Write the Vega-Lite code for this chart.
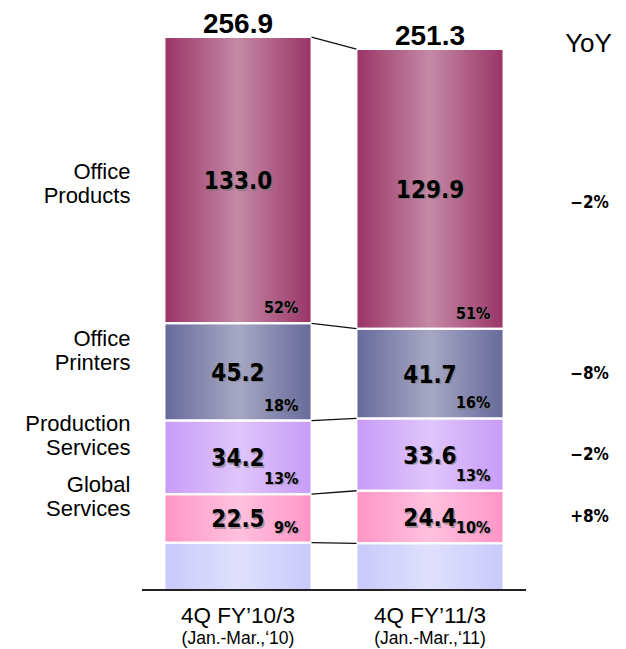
{
  "$schema": "https://vega.github.io/schema/vega-lite/v6.json",
  "autosize": {"type": "none"},
  "padding": {"left": 142, "right": 100, "top": 0, "bottom": 59},
  "width": 384,
  "height": 590,
  "config": {"view": {"stroke": null}, "font": "Liberation Sans"},
  "datasets": {
    "seg": [
      {"period": "FY10", "segment": "Other", "order": 1, "value": 22.0, "pct": null, "yoy": null, "name": ""},
      {"period": "FY10", "segment": "Global Services", "order": 2, "value": 22.5, "pct": 0.09, "yoy": 0.08, "name": "Global\nServices"},
      {"period": "FY10", "segment": "Production Services", "order": 3, "value": 34.2, "pct": 0.13, "yoy": -0.02, "name": "Production\nServices"},
      {"period": "FY10", "segment": "Office Printers", "order": 4, "value": 45.2, "pct": 0.18, "yoy": -0.08, "name": "Office\nPrinters"},
      {"period": "FY10", "segment": "Office Products", "order": 5, "value": 133.0, "pct": 0.52, "yoy": -0.02, "name": "Office\nProducts"},
      {"period": "FY11", "segment": "Other", "order": 1, "value": 21.7, "pct": null, "yoy": null, "name": ""},
      {"period": "FY11", "segment": "Global Services", "order": 2, "value": 24.4, "pct": 0.10, "yoy": 0.08, "name": "Global\nServices"},
      {"period": "FY11", "segment": "Production Services", "order": 3, "value": 33.6, "pct": 0.13, "yoy": -0.02, "name": "Production\nServices"},
      {"period": "FY11", "segment": "Office Printers", "order": 4, "value": 41.7, "pct": 0.16, "yoy": -0.08, "name": "Office\nPrinters"},
      {"period": "FY11", "segment": "Office Products", "order": 5, "value": 129.9, "pct": 0.51, "yoy": -0.02, "name": "Office\nProducts"}
    ],
    "totals": [
      {"period": "FY10", "total": 256.9},
      {"period": "FY11", "total": 251.3}
    ],
    "periods": [
      {"period": "FY10", "line1": "4Q FY’10/3", "line2": "(Jan.-Mar.,‘10)"},
      {"period": "FY11", "line1": "4Q FY’11/3", "line2": "(Jan.-Mar.,‘11)"}
    ]
  },
  "data": {"name": "seg"},
  "layer": [
    {
      "mark": {"type": "bar"},
      "encoding": {
        "x": {"field": "period", "type": "nominal", "axis": null,
              "scale": {"type": "band", "domain": ["FY10", "FY11"], "paddingInner": 0.234, "paddingOuter": 0.117}},
        "y": {"field": "value", "type": "quantitative", "stack": "zero", "axis": null,
              "scale": {"domain": [0, 274.09], "nice": false, "zero": true}},
        "order": {"field": "order"},
        "color": {"field": "segment", "type": "nominal", "legend": null,
                  "scale": {"domain": ["Other", "Global Services", "Production Services", "Office Printers", "Office Products"],
                            "range": ["#C9C9FB", "#FF95C6", "#C89CF8", "#67699A", "#9A3465"]}}
      }
    },
    {
      "mark": {"type": "bar", "stroke": "white", "strokeWidth": 2,
               "fill": {"gradient": "linear", "x1": 0, "y1": 0, "x2": 1, "y2": 0,
                        "stops": [{"offset": 0, "color": "rgba(255,255,255,0)"},
                                  {"offset": 0.5, "color": "rgba(255,255,255,0.42)"},
                                  {"offset": 1, "color": "rgba(255,255,255,0)"}]}},
      "encoding": {
        "x": {"field": "period", "type": "nominal"},
        "y": {"field": "value", "type": "quantitative", "stack": "zero"},
        "order": {"field": "order"},
        "detail": {"field": "segment"}
      }
    },
    {
      "transform": [
        {"stack": "value", "groupby": ["period"], "sort": [{"field": "order", "order": "ascending"}], "as": ["y0", "y1"]},
        {"pivot": "period", "value": "y1", "groupby": ["segment"]}
      ],
      "mark": {"type": "rule", "color": "#111", "strokeWidth": 1.3},
      "encoding": {
        "x": {"datum": "FY10", "type": "nominal", "bandPosition": 1},
        "x2": {"datum": "FY11", "bandPosition": 0},
        "y": {"field": "FY10", "type": "quantitative"},
        "y2": {"field": "FY11"}
      }
    },
    {
      "data": {"values": [{}]},
      "mark": {"type": "rule", "color": "#222", "strokeWidth": 1.8},
      "encoding": {"y": {"datum": 0, "type": "quantitative"}}
    },
    {
      "data": {"name": "totals"},
      "mark": {"type": "text", "fontWeight": "bold", "fontSize": 28, "baseline": "alphabetic", "dy": -4, "color": "#000"},
      "encoding": {
        "x": {"field": "period", "type": "nominal"},
        "y": {"field": "total", "type": "quantitative"},
        "text": {"field": "total", "type": "quantitative", "format": ".1f"}
      }
    },
    {
      "data": {"name": "totals"},
      "transform": [{"filter": "datum.period === 'FY11'"}],
      "mark": {"type": "text", "fontSize": 26, "baseline": "alphabetic", "align": "center", "dx": 85, "dy": 3, "color": "#000"},
      "encoding": {
        "x": {"field": "period", "type": "nominal", "bandPosition": 1},
        "y": {"field": "total", "type": "quantitative"},
        "text": {"value": "YoY"}
      }
    },
    {
      "mark": {"type": "text", "font": "DejaVu Sans Condensed, Liberation Sans", "fontWeight": "bold", "fontSize": 24, "baseline": "middle", "dx": 1.5, "dy": 3.5, "color": "#777", "opacity": 0.6},
      "encoding": {
        "x": {"field": "period", "type": "nominal"},
        "y": {"field": "value", "type": "quantitative", "stack": "zero", "bandPosition": 0.5},
        "order": {"field": "order"},
        "detail": {"field": "segment"},
        "text": {"condition": {"test": "datum.segment !== 'Other'", "field": "value", "type": "quantitative", "format": ".1f"}, "value": ""}
      }
    },
    {
      "mark": {"type": "text", "font": "DejaVu Sans Condensed, Liberation Sans", "fontWeight": "bold", "fontSize": 24, "baseline": "middle", "dy": 2, "color": "#000"},
      "encoding": {
        "x": {"field": "period", "type": "nominal"},
        "y": {"field": "value", "type": "quantitative", "stack": "zero", "bandPosition": 0.5},
        "order": {"field": "order"},
        "detail": {"field": "segment"},
        "text": {"condition": {"test": "datum.segment !== 'Other'", "field": "value", "type": "quantitative", "format": ".1f"}, "value": ""}
      }
    },
    {
      "mark": {"type": "text", "font": "DejaVu Sans Condensed, Liberation Sans", "fontWeight": "bold", "fontSize": 16, "baseline": "middle", "align": "right", "dx": -11.8, "dy": -13.8, "color": "#777", "opacity": 0.6},
      "encoding": {
        "x": {"field": "period", "type": "nominal", "bandPosition": 1},
        "y": {"field": "value", "type": "quantitative", "stack": "zero", "bandPosition": 0},
        "order": {"field": "order"},
        "detail": {"field": "segment"},
        "text": {"condition": {"test": "datum.segment !== 'Other'", "field": "pct", "type": "quantitative", "format": ".0%"}, "value": ""}
      }
    },
    {
      "mark": {"type": "text", "font": "DejaVu Sans Condensed, Liberation Sans", "fontWeight": "bold", "fontSize": 16, "baseline": "middle", "align": "right", "dx": -13, "dy": -15, "color": "#000"},
      "encoding": {
        "x": {"field": "period", "type": "nominal", "bandPosition": 1},
        "y": {"field": "value", "type": "quantitative", "stack": "zero", "bandPosition": 0},
        "order": {"field": "order"},
        "detail": {"field": "segment"},
        "text": {"condition": {"test": "datum.segment !== 'Other'", "field": "pct", "type": "quantitative", "format": ".0%"}, "value": ""}
      }
    },
    {
      "mark": {"type": "text", "fontSize": 22, "lineHeight": 24, "lineBreak": "\n", "baseline": "middle", "align": "right", "dx": -34, "dy": -33, "color": "#000"},
      "encoding": {
        "x": {"field": "period", "type": "nominal", "bandPosition": 0},
        "y": {"field": "value", "type": "quantitative", "stack": "zero", "bandPosition": 0.5},
        "order": {"field": "order"},
        "detail": {"field": "segment"},
        "text": {"condition": {"test": "datum.period === 'FY10' && datum.segment !== 'Other' && datum.segment !== 'Office Products'", "field": "name", "type": "nominal"}, "value": ""}
      }
    },
    {
      "mark": {"type": "text", "fontSize": 22, "lineHeight": 24, "lineBreak": "\n", "baseline": "middle", "align": "right", "dx": -34, "dy": -8, "color": "#000"},
      "encoding": {
        "x": {"field": "period", "type": "nominal", "bandPosition": 0},
        "y": {"field": "value", "type": "quantitative", "stack": "zero", "bandPosition": 0.5},
        "order": {"field": "order"},
        "detail": {"field": "segment"},
        "text": {"condition": {"test": "datum.period === 'FY10' && datum.segment === 'Office Products'", "field": "name", "type": "nominal"}, "value": ""}
      }
    },
    {
      "mark": {"type": "text", "font": "DejaVu Sans Condensed, Liberation Sans", "fontWeight": "bold", "fontSize": 17, "baseline": "middle", "align": "center", "dx": 86, "dy": 0, "color": "#000"},
      "encoding": {
        "x": {"field": "period", "type": "nominal", "bandPosition": 1},
        "y": {"field": "value", "type": "quantitative", "stack": "zero", "bandPosition": 0.5},
        "order": {"field": "order"},
        "detail": {"field": "segment"},
        "text": {"condition": {"test": "datum.period === 'FY11' && datum.segment !== 'Other' && datum.segment !== 'Office Products'", "field": "yoy", "type": "quantitative", "format": "+.0%"}, "value": ""}
      }
    },
    {
      "mark": {"type": "text", "font": "DejaVu Sans Condensed, Liberation Sans", "fontWeight": "bold", "fontSize": 17, "baseline": "middle", "align": "center", "dx": 86, "dy": 14, "color": "#000"},
      "encoding": {
        "x": {"field": "period", "type": "nominal", "bandPosition": 1},
        "y": {"field": "value", "type": "quantitative", "stack": "zero", "bandPosition": 0.5},
        "order": {"field": "order"},
        "detail": {"field": "segment"},
        "text": {"condition": {"test": "datum.period === 'FY11' && datum.segment === 'Office Products'", "field": "yoy", "type": "quantitative", "format": "+.0%"}, "value": ""}
      }
    },
    {
      "data": {"name": "periods"},
      "mark": {"type": "text", "fontSize": 22.5, "baseline": "middle", "dy": 26, "color": "#000"},
      "encoding": {
        "x": {"field": "period", "type": "nominal"},
        "y": {"datum": 0, "type": "quantitative"},
        "text": {"field": "line1", "type": "nominal"}
      }
    },
    {
      "data": {"name": "periods"},
      "mark": {"type": "text", "fontSize": 17.5, "baseline": "middle", "dy": 48.5, "color": "#000"},
      "encoding": {
        "x": {"field": "period", "type": "nominal"},
        "y": {"datum": 0, "type": "quantitative"},
        "text": {"field": "line2", "type": "nominal"}
      }
    }
  ]
}
